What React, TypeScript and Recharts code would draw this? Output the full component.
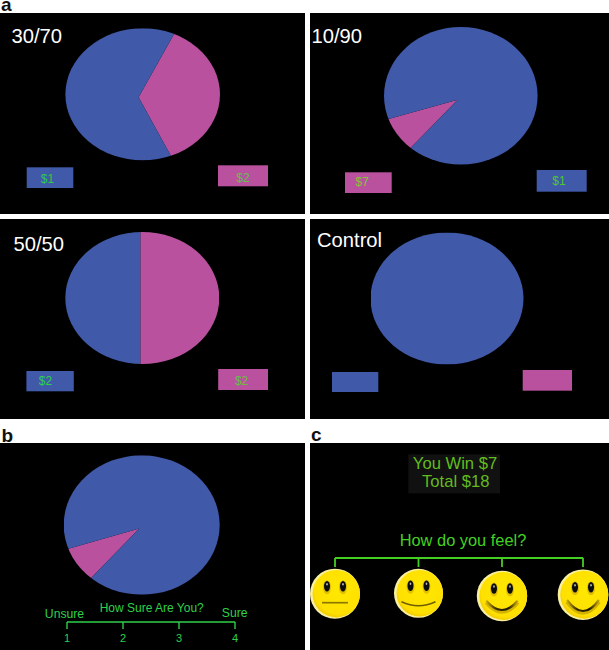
import React from "react";
import { PieChart, Pie, LineChart, XAxis } from "recharts";

// pie shares: [pink, blue]
const SHARES_30_70 = [35.9, 64.1];
const SHARES_10_90 = [8.75, 91.25];
const SHARES_50_50 = [50, 50];
const SHARES_CONTROL = [0, 100];
const SHARES_SURE = [8.7, 91.3];

const SURE_LEVELS = [1, 2, 3, 4];
const FEEL_LEVELS = [1, 2.01, 3.02, 4];

const BLUE = "#4059A9";
const PINK = "#B9519E";
const GREEN = "#2FD04A";
const FEEL_GREEN = "#44D022";
const FONT = "'Liberation Sans', Arial, sans-serif";

const PANELS = [
  { x: 0, y: 13, w: 305, h: 201 },
  { x: 310, y: 13, w: 299, h: 201 },
  { x: 0, y: 219, w: 305, h: 200 },
  { x: 310, y: 219, w: 299, h: 200 },
  { x: 0, y: 443, w: 305, h: 207 },
  { x: 310, y: 443, w: 299, h: 207 },
];

// one entry per face, offsets from the face centre
const FACES = [
  { cy: 150.7, r: 25, half: 13, ends: 9, low: 9 },
  { cy: 150.3, r: 24.5, half: 17, ends: 8.4, low: 12.4 },
  { cy: 153, r: 25.2, half: 15.7, ends: 4.7, low: 14 },
  { cy: 151.7, r: 25.3, half: 16, ends: 5.3, low: 16.3 },
];

const sliceData = (shares: number[]) => [
  { name: "pink", value: shares[0], fill: PINK },
  { name: "blue", value: shares[1], fill: BLUE },
];

interface DiscProps {
  cx: number;
  cy: number;
  rx: number;
  ry: number;
  apexX: number;
  apexY: number;
  startAngle: number;
  shares: number[];
}

// the originals are squashed and the wedge tip sits off centre, so the pie is
// drawn around the tip, clipped to a circle and then flattened
const Disc = ({ cx, cy, rx, ry, apexX, apexY, startAngle, shares }: DiscProps) => {
  const squash = ry / rx;
  return (
    <div
      style={{
        position: "absolute",
        left: cx - rx,
        top: cy - rx,
        width: rx * 2,
        height: rx * 2,
        transform: `scaleY(${squash})`,
        clipPath: `circle(${rx}px at ${rx}px ${rx}px)`,
      }}
    >
      <PieChart width={rx * 2} height={rx * 2} margin={{ top: 0, right: 0, bottom: 0, left: 0 }}>
        <Pie
          data={sliceData(shares)}
          dataKey="value"
          cx={rx + apexX - cx}
          cy={rx + (apexY - cy) / squash}
          innerRadius={0}
          outerRadius={rx * 1.25}
          startAngle={startAngle}
          endAngle={startAngle + 360}
          stroke="none"
          isAnimationActive={false}
        />
      </PieChart>
    </div>
  );
};

const Swatch = ({ x, y, w, h, fill, label, tx, ty, color }: any) => (
  <g>
    <rect x={x} y={y} width={w} height={h} fill={fill} />
    {label && (
      <text x={tx} y={ty} textAnchor="middle" fontSize={12} fill={color} fontFamily={FONT}>
        {label}
      </text>
    )}
  </g>
);

function FaceTick({ x, index }: any) {
  const { cy, r, half, ends, low } = FACES[index];
  const control = cy + ends + (low - ends) * 2;
  const mouth = `M ${x - half} ${cy + ends} Q ${x} ${control} ${x + half} ${cy + ends}`;
  const flat = low === ends;
  return (
    <g>
      <circle cx={x} cy={cy} r={r} fill="#F8F0A0" />
      <circle cx={x + 1.3} cy={cy} r={r - 1.3} fill="url(#faceFill)" />
      {[-8, 8].map((dx) => (
        <g key={dx}>
          <ellipse cx={x + dx} cy={cy - 6.5} rx={4} ry={7} fill="#E0BE00" />
          <ellipse cx={x + dx} cy={cy - 7.5} rx={3} ry={5.2} fill="#0c0c0c" />
          <ellipse cx={x + dx} cy={cy - 9.5} rx={0.8} ry={1.2} fill="#bbb" />
        </g>
      ))}
      {!flat && low - ends > 6 && (
        <path d={mouth} transform="translate(0 1.8)" fill="none" stroke="#D4B200" strokeWidth={4} />
      )}
      <path
        d={mouth}
        fill="none"
        stroke={flat ? "#8A7800" : low - ends > 6 ? "url(#mouthStroke)" : "#6E5E00"}
        strokeWidth={flat ? 1.7 : low - ends > 6 ? 2.2 : 1.5}
      />
    </g>
  );
}

const App = () => (
  <div style={{ position: "fixed", left: 0, top: 0, width: 609, height: 650, background: "#fff", overflow: "hidden" }}>
    {PANELS.map((p, i) => (
      <div
        key={i}
        style={{ position: "absolute", left: p.x, top: p.y, width: p.w, height: p.h, background: "#000" }}
      />
    ))}

    <Disc cx={142.7} cy={94.7} rx={77.3} ry={66} apexX={139} apexY={97.7} startAngle={-64.8} shares={SHARES_30_70} />
    <Disc cx={460.8} cy={95.8} rx={76.8} ry={68.8} apexX={457.7} apexY={99.7} startAngle={197.3} shares={SHARES_10_90} />
    <Disc cx={142.3} cy={298.3} rx={77} ry={66} apexX={140.6} apexY={298.3} startAngle={-90} shares={SHARES_50_50} />
    <Disc cx={447} cy={298.7} rx={76.5} ry={66} apexX={447} apexY={298.7} startAngle={0} shares={SHARES_CONTROL} />
    <Disc cx={141.7} cy={524.7} rx={78} ry={69.7} apexX={139} apexY={528.3} startAngle={197.7} shares={SHARES_SURE} />

    <div style={{ position: "absolute", left: 0, top: 443 }}>
      <LineChart
        width={305}
        height={207}
        data={SURE_LEVELS.map((level) => ({ level }))}
        margin={{ top: 0, right: 70, bottom: 0, left: 67 }}
      >
        <XAxis
          dataKey="level"
          type="number"
          domain={[1, 4]}
          ticks={SURE_LEVELS}
          interval={0}
          height={28}
          tickSize={7}
          tickMargin={5.5}
          stroke={GREEN}
          strokeWidth={1.4}
          tick={{ fill: GREEN, fontSize: 11, fontFamily: FONT }}
        />
      </LineChart>
    </div>

    <svg width={0} height={0} style={{ position: "absolute" }}>
      <defs>
        <radialGradient id="faceFill" cx="0.55" cy="0.42" r="0.62">
          <stop offset="0" stopColor="#FFE800" />
          <stop offset="0.82" stopColor="#FFE000" />
          <stop offset="1" stopColor="#EFC400" />
        </radialGradient>
        <linearGradient id="mouthStroke" x1="0" x2="1" y1="0" y2="0">
          <stop offset="0" stopColor="#C9A800" />
          <stop offset="0.3" stopColor="#3a3000" />
          <stop offset="0.7" stopColor="#1a1600" />
          <stop offset="1" stopColor="#C9A800" />
        </linearGradient>
      </defs>
    </svg>

    <div style={{ position: "absolute", left: 310, top: 443 }}>
      <LineChart
        width={299}
        height={207}
        data={FEEL_LEVELS.map((level) => ({ level }))}
        margin={{ top: 0, right: 26, bottom: 0, left: 25 }}
      >
        <XAxis
          dataKey="level"
          type="number"
          domain={[1, 4]}
          ticks={FEEL_LEVELS}
          interval={0}
          height={92}
          tickSize={9}
          stroke={FEEL_GREEN}
          strokeWidth={1.8}
          tick={<FaceTick />}
        />
      </LineChart>
    </div>

    <svg width={609} height={650} style={{ position: "absolute", left: 0, top: 0 }} fontFamily={FONT}>
      <text x={1} y={11} fontSize={19} fontWeight="bold" fill="#111">a</text>
      <text x={1.5} y={441.5} fontSize={19} fontWeight="bold" fill="#111">b</text>
      <text x={311} y={441} fontSize={19} fontWeight="bold" fill="#111">c</text>

      <text x={11.5} y={43} fontSize={20.2} fill="#fff">30/70</text>
      <text x={311.5} y={42.7} fontSize={20.2} fill="#fff">10/90</text>
      <text x={13.5} y={251} fontSize={20.2} fill="#fff">50/50</text>
      <text x={317} y={247.3} fontSize={20.2} fill="#fff">Control</text>

      <Swatch x={26.7} y={167.3} w={46.6} h={20.7} fill={BLUE} label="$1" tx={47.5} ty={183} color="#2FC84A" />
      <Swatch x={218} y={165.3} w={50} h={21} fill={PINK} label="$2" tx={243} ty={181.5} color="#6CBC4A" />
      <Swatch x={345} y={172.3} w={46.7} h={20.7} fill={PINK} label="$7" tx={362.3} ty={185.5} color="#78C840" />
      <Swatch x={536.7} y={170} w={50} h={21.7} fill={BLUE} label="$1" tx={559} ty={184.5} color="#4FC830" />
      <Swatch x={26.4} y={371} w={47.4} h={20.3} fill={BLUE} label="$2" tx={45.4} ty={385} color="#2FD04A" />
      <Swatch x={218.2} y={369} w={49.8} h={21} fill={PINK} label="$2" tx={241.6} ty={385} color="#6CBC4A" />
      <Swatch x={332} y={372} w={46.3} h={20} fill={BLUE} />
      <Swatch x={522.7} y={370} w={49.3} h={20.7} fill={PINK} />

      <text x={151.7} y={611.7} textAnchor="middle" fontSize={12} fill={GREEN}>How Sure Are You?</text>
      <text x={64.5} y={618.3} textAnchor="middle" fontSize={12.2} fill={GREEN}>Unsure</text>
      <text x={234.7} y={616.7} textAnchor="middle" fontSize={12.2} fill={GREEN}>Sure</text>

      <rect x={408.3} y={454.3} width={91.7} height={39} fill="#111" />
      <text x={455} y={469.3} textAnchor="middle" fontSize={16.6} fill="#62BC1E">You Win $7</text>
      <text x={455.7} y={487.3} textAnchor="middle" fontSize={16.6} fill="#62BC1E">Total $18</text>
      <text x={463} y={546} textAnchor="middle" fontSize={16.4} fill={FEEL_GREEN}>How do you feel?</text>
    </svg>
  </div>
);

export default App;
